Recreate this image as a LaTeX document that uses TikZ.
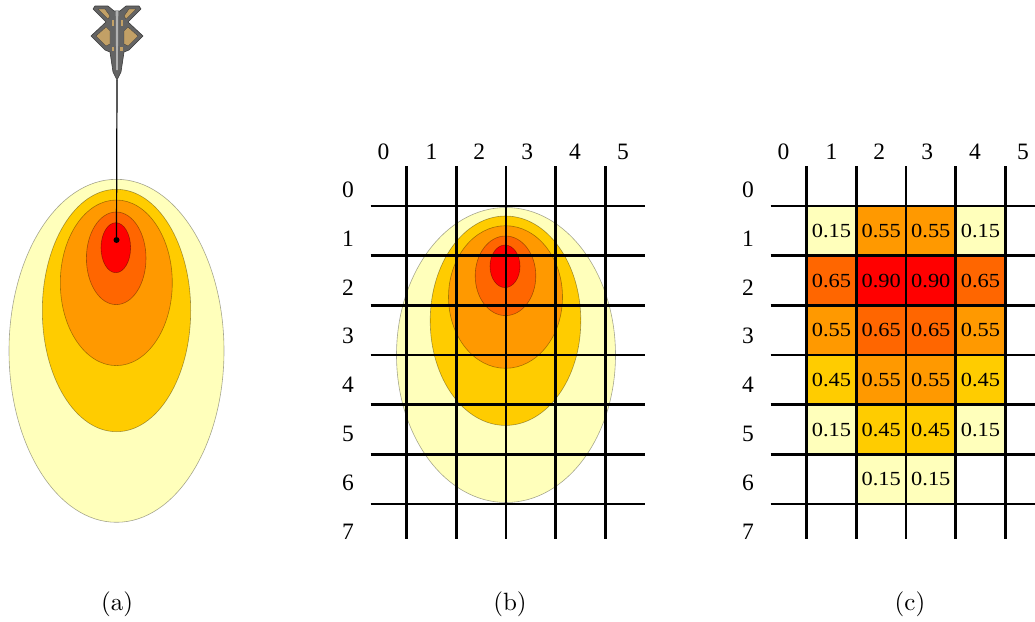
\documentclass[tikz,border=0pt]{standalone}
\usepackage{fontspec}
\newfontfamily\tnr{Liberation Serif}
\newfontfamily\tnrwide{Liberation Serif}[FakeStretch=1.12]
\newfontfamily\capfont{lmroman10-regular.otf}
\definecolor{zpale}{HTML}{FFFFBB}
\definecolor{zyel}{HTML}{FFCC00}
\definecolor{zorg}{HTML}{FF9900}
\definecolor{zdeep}{HTML}{FF6600}
\definecolor{zcore}{HTML}{FF0000}
\definecolor{jetgray}{HTML}{646464}
\definecolor{jetdark}{HTML}{3A3A3A}
\definecolor{jettan}{HTML}{C2A066}
\tikzset{
  gridline/.style={line width=2.5pt, black},
  zone/.style={draw=black, draw opacity=0.35, line width=0.6pt},
  axislabel/.style={font=\tnr\fontsize{23.5}{27}\selectfont, inner sep=0pt},
  cellval/.style={font=\tnrwide\fontsize{20}{24}\selectfont, inner sep=0pt},
  caption/.style={font=\capfont\fontsize{25}{29}\selectfont, inner sep=0pt},
  jetbody/.style={fill=jetgray, draw=jetdark, line width=0.6pt, line join=round},
  jetpanel/.style={fill=jettan, draw=jetdark, line width=0.3pt, line join=round},
}
\begin{document}
\begin{tikzpicture}[x=1pt,y=-1pt]
\useasboundingbox (0,0) rectangle (1035,621);

% ---------- (a) threat zones below the aircraft ----------
\filldraw[zone, fill=zpale]  (116.5,350.8) ellipse [x radius=107.5pt, y radius=171.5pt];
\filldraw[zone, fill=zyel]   (116.5,310.5) ellipse [x radius=74.2pt, y radius=121.2pt];
\filldraw[zone, fill=zorg]   (116.3,282.8) ellipse [x radius=56pt, y radius=82.8pt];
\filldraw[zone, fill=zdeep]  (116.2,258.3) ellipse [x radius=29.8pt, y radius=46.3pt];
\filldraw[zone, fill=zcore]  (115.8,247.7) ellipse [x radius=14.8pt, y radius=25pt];

% aircraft seen from above, nose down
\draw[jetbody] (95,6) -- (108,6) -- (114,11) -- (120,11) -- (126,6) -- (139,6)
  -- (141,9) -- (128,22) -- (143,36) -- (129,50) -- (124,52) -- (121,72)
  -- (117,80) -- (113,72) -- (110,52) -- (105,50) -- (91,36) -- (106,22)
  -- (93,9) -- cycle;
\draw[jetpanel] (98,9) -- (105,9) -- (110,16) -- (108,19) -- cycle;
\draw[jetpanel] (136,9) -- (129,9) -- (124,16) -- (126,19) -- cycle;
\draw[jetpanel] (96,36) -- (106,27) -- (110,31) -- (110,44) -- (106,46) -- cycle;
\draw[jetpanel] (138,36) -- (128,27) -- (124,31) -- (124,44) -- (128,46) -- cycle;
\fill[jettan] (111.5,20) rectangle (113.5,26);
\fill[jettan] (120.5,20) rectangle (122.5,26);
\fill[jettan] (111.5,47) rectangle (114,51);
\fill[jettan] (120,47) rectangle (122.5,51);
\fill[black!30] (115.7,10) -- (118.3,10) -- (117.8,70) -- (116.2,70) -- cycle;
\coordinate (nose) at (117,80);

\node[circle, fill=black, inner sep=0pt, minimum size=6pt] (dot) at (116.5,240) {};
\draw[line width=1.2pt] (nose) -- (dot);

\node[caption] (capa) at (117,604) {(a)};

% ---------- (b) zones laid over the grid ----------
\filldraw[zone, fill=zpale]  (506,355)     ellipse [x radius=109.5pt, y radius=147.5pt];
\filldraw[zone, fill=zyel]   (505.5,320.7) ellipse [x radius=75.3pt, y radius=104.7pt];
\filldraw[zone, fill=zorg]   (505.5,297)   ellipse [x radius=57pt, y radius=71.3pt];
\filldraw[zone, fill=zdeep]  (505.5,275.8) ellipse [x radius=30.3pt, y radius=39.8pt];
\filldraw[zone, fill=zcore]  (505,266.3)   ellipse [x radius=15pt, y radius=21.3pt];

% ---------- (c) cell values ----------
\foreach \r/\c/\col/\v in {
  1/1/zpale/0.15, 1/2/zorg/0.55, 1/3/zorg/0.55, 1/4/zpale/0.15,
  2/1/zdeep/0.65, 2/2/zcore/0.90, 2/3/zcore/0.90, 2/4/zdeep/0.65,
  3/1/zorg/0.55, 3/2/zdeep/0.65, 3/3/zdeep/0.65, 3/4/zorg/0.55,
  4/1/zyel/0.45, 4/2/zorg/0.55, 4/3/zorg/0.55, 4/4/zyel/0.45,
  5/1/zpale/0.15, 5/2/zyel/0.45, 5/3/zyel/0.45, 5/4/zpale/0.15,
  6/2/zpale/0.15, 6/3/zpale/0.15}{
  \fill[\col] ({757+49.67*\c},{156.33+49.67*\r}) rectangle ++(49.67,49.67);
  \node[cellval] (cell\r\c) at ({781.8+49.67*\c},{181.2+49.67*\r}) {\v};
}

% ---------- grids and axis labels for (b) and (c) ----------
\foreach \ox/\p in {0/b,400/c}{
  \foreach \k in {0,...,4}
    \draw[gridline] ({406.7+\ox+49.67*\k},166) -- ({406.7+\ox+49.67*\k},539);
  \foreach \k in {0,...,6}
    \draw[gridline] ({370.7+\ox},{206+49.67*\k}) -- ({645+\ox},{206+49.67*\k});
  \foreach \k in {0,...,5}
    \node[axislabel] (\p col\k) at ({383.5+\ox+47.9*\k},152) {\k};
  \foreach \k in {0,...,7}
    \node[axislabel] (\p row\k) at ({348+\ox},{189.5+48.9*\k}) {\k};
}

\node[caption] (capb) at (510,604) {(b)};
\node[caption] (capc) at (910,604) {(c)};
\end{tikzpicture}
\end{document}
